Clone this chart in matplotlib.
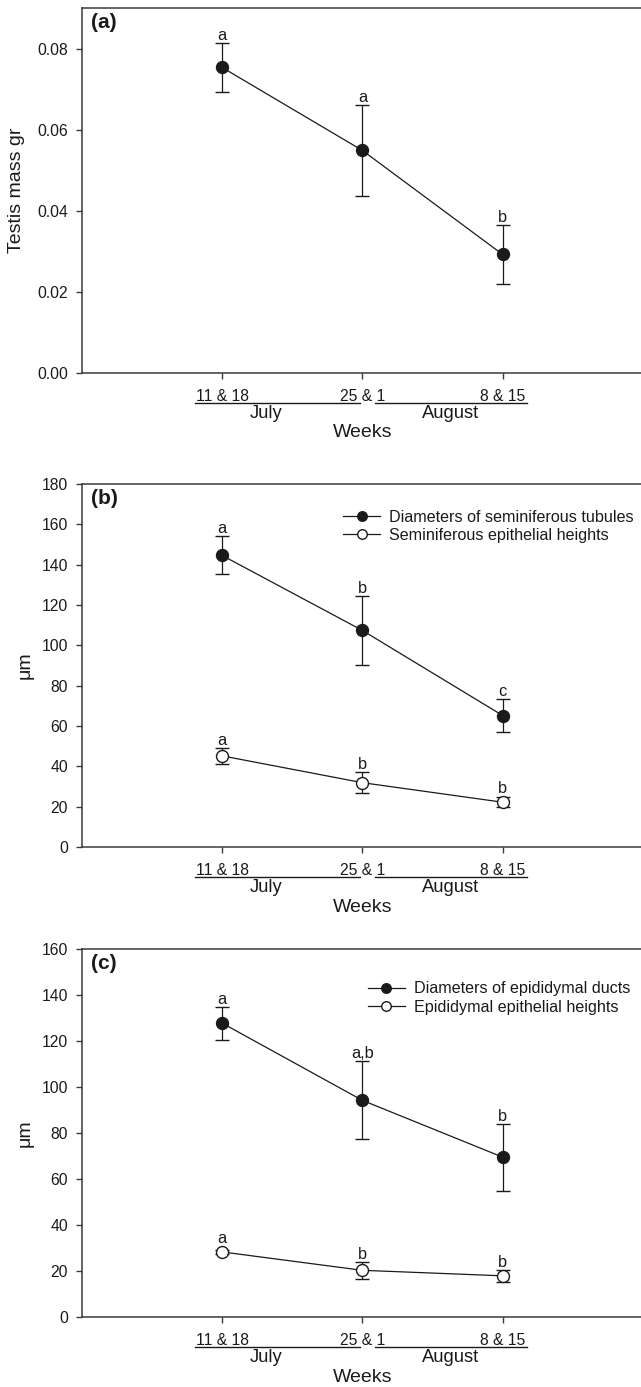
import matplotlib
matplotlib.use('Agg')
import matplotlib.pyplot as plt
from matplotlib.transforms import offset_copy

plt.rcParams['font.family'] = ['Liberation Sans', 'DejaVu Sans']

# sampling weeks
x = [1, 2, 3]
week_labels = ['11 & 18', '25 & 1', '8 & 15']

# (a) testis mass
testis_mass = [0.0754, 0.0549, 0.0292]
testis_err = [0.0060, 0.0112, 0.0074]
testis_letters = ['a', 'a', 'b']

# (b) seminiferous tubules
semi_diam = [144.6, 107.4, 65.2]
semi_diam_err = [9.4, 17.3, 8.4]
semi_diam_letters = ['a', 'b', 'c']
semi_epi = [45.2, 31.9, 22.2]
semi_epi_err = [4.0, 5.2, 2.6]
semi_epi_letters = ['a', 'b', 'b']

# (c) epididymal ducts
epi_diam = [127.8, 94.2, 69.5]
epi_diam_err = [7.2, 16.9, 14.6]
epi_diam_letters = ['a', 'a,b', 'b']
epi_epi = [28.3, 20.3, 17.9]
epi_epi_err = [1.0, 3.6, 2.5]
epi_epi_letters = ['a', 'b', 'b']

DPI = 100
W, H = 641, 1387
ink = '#1a1a1a'
ms = 8.6

fig = plt.figure(figsize=(W / DPI, H / DPI), dpi=DPI)


def make_axes(top_px, bot_px):
    left = 81.7 / W
    right = 643.0 / W
    return fig.add_axes([left, 1 - bot_px / H, right - left, (bot_px - top_px) / H])


def series(ax, y, err, letters, filled, label=None):
    ax.errorbar(x, y, yerr=err, color=ink, lw=0.9, elinewidth=0.9, capsize=4.7,
                capthick=0.9, marker='o', ms=ms, mfc=ink if filled else 'white',
                mec=ink, mew=1.0, label=label, zorder=3)
    fig.canvas.draw()
    for xi, yi, ei, lab in zip(x, y, err, letters):
        top = ax.transData.transform((xi, yi + ei))[1]
        mk = ax.transData.transform((xi, yi))[1] + ms * DPI / 72 / 2
        off = max(top, mk) - top + 3
        ax.annotate(lab, (xi, yi + ei), xytext=(0, off * 72 / DPI),
                    textcoords='offset points', ha='center', va='baseline',
                    fontsize=11.8, color=ink)


def decorate(ax, ylim, yticks, ylabel, ylab_x, panel):
    ax.set_xlim(0, 4)
    ax.set_ylim(*ylim)
    ax.set_yticks(yticks)
    ax.set_xticks(x, week_labels)
    for s in ax.spines.values():
        s.set_color('#3a3a3a')
        s.set_linewidth(1.1)
    ax.tick_params(axis='both', direction='out', length=4.2, width=1.0,
                   color='#3a3a3a', labelsize=11.3, labelcolor=ink)
    ax.tick_params(axis='y', pad=5.5)
    ax.tick_params(axis='x', pad=7.5)
    ax.text(ylab_x, 0.5, ylabel, transform=ax.transAxes, rotation=90,
            ha='center', va='center', fontsize=14, color=ink)
    ax.text(0.016, 0.96, panel, transform=ax.transAxes, ha='left', va='center',
            fontsize=15, fontweight='bold', color=ink)
    base = ax.get_xaxis_transform()
    under = offset_copy(base, fig=fig, y=-30, units='dots')
    ax.plot([0.81, 1.98], [0, 0], transform=under, clip_on=False, color=ink, lw=1.0)
    ax.plot([2.09, 3.17], [0, 0], transform=under, clip_on=False, color=ink, lw=1.0)
    month = offset_copy(base, fig=fig, y=-41, units='dots')
    ax.text(1.313, 0, 'July', transform=month, ha='center', va='center',
            fontsize=13.2, color=ink)
    ax.text(2.63, 0, 'August', transform=month, ha='center', va='center',
            fontsize=13.2, color=ink)
    wk = offset_copy(base, fig=fig, y=-60, units='dots')
    ax.text(2.0, 0, 'Weeks', transform=wk, ha='center', va='center',
            fontsize=14, color=ink)


# panel (a)
ax_a = make_axes(8.3, 372.7)
decorate(ax_a, (0, 0.09), [0.00, 0.02, 0.04, 0.06, 0.08], 'Testis mass gr', -0.116, '(a)')
ax_a.set_yticklabels(['0.00', '0.02', '0.04', '0.06', '0.08'])
series(ax_a, testis_mass, testis_err, testis_letters, True)

# panel (b)
ax_b = make_axes(484, 847)
decorate(ax_b, (0, 180), range(0, 181, 20), 'μm', -0.101, '(b)')
series(ax_b, semi_diam, semi_diam_err, semi_diam_letters, True,
       'Diameters of seminiferous tubules')
series(ax_b, semi_epi, semi_epi_err, semi_epi_letters, False,
       'Seminiferous epithelial heights')

# panel (c)
ax_c = make_axes(949, 1317)
decorate(ax_c, (0, 160), range(0, 161, 20), 'μm', -0.101, '(c)')
series(ax_c, epi_diam, epi_diam_err, epi_diam_letters, True,
       'Diameters of epididymal ducts')
series(ax_c, epi_epi, epi_epi_err, epi_epi_letters, False,
       'Epididymal epithelial heights')

for ax, bx, by in [(ax_b, 0.4655, 0.9295), (ax_c, 0.510, 0.912)]:
    handles, labels = ax.get_legend_handles_labels()
    handles = [h[0] for h in handles]
    ax.legend(handles, labels, loc='upper left', bbox_to_anchor=(bx, by),
              frameon=False, fontsize=11.6, handlelength=2.3, handletextpad=0.55,
              labelspacing=0.2, borderpad=0, borderaxespad=0, markerscale=0.8,
              labelcolor=ink)

fig.savefig('out.png', dpi=DPI)
